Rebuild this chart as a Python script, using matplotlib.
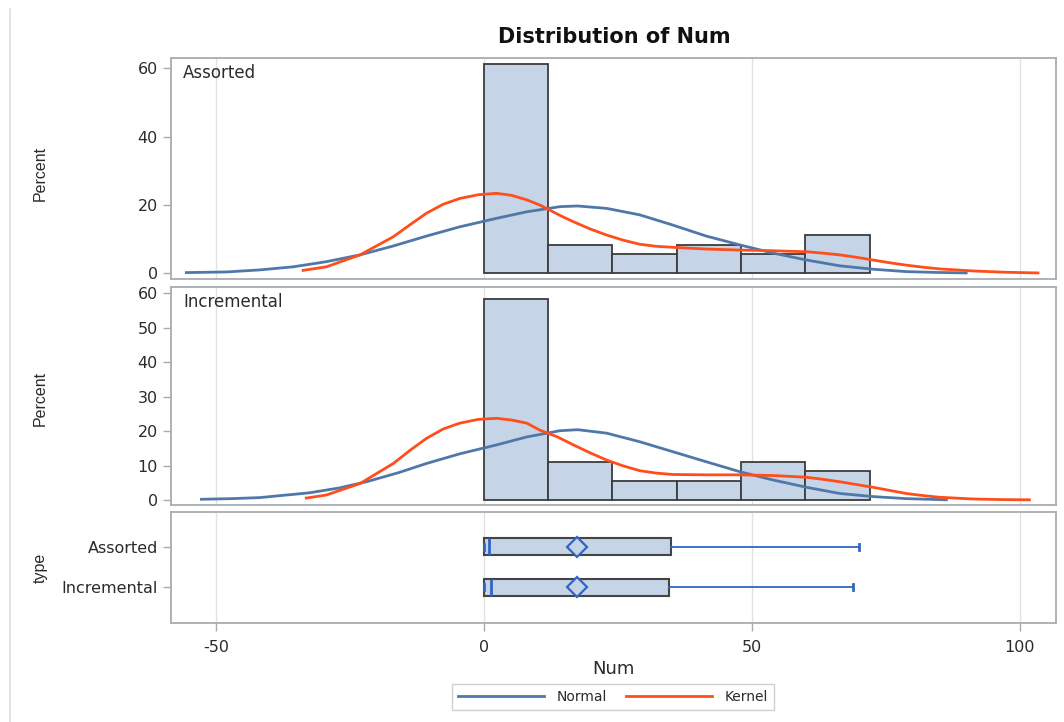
import matplotlib
matplotlib.use("Agg")
import matplotlib.pyplot as plt
from matplotlib.lines import Line2D

plt.rcParams['font.family'] = ['DejaVu Sans']
plt.rcParams['axes.unicode_minus'] = False

# ---------------- data ----------------
bin_edges = [0, 12, 24, 36, 48, 60, 72]
assorted_pct = [61.1, 8.3, 5.6, 8.3, 5.6, 11.1]
incremental_pct = [58.3, 11.1, 5.6, 5.6, 11.1, 8.3]

# Kernel density curves
assorted_kernel_x = [-34.0, -29.4, -23.1, -16.9, -13.8, -10.7, -7.6, -4.5, -1.0, 2.4, 5.2, 8.0,
                     10.4, 12.3, 14.5, 16.7, 19.8, 22.9, 26.0, 29.1, 32.2, 35.3, 41.5, 47.8,
                     54.0, 60.2, 63.3, 66.4, 69.5, 72.6, 75.7, 78.8, 81.9, 85.0, 91.2, 97.5, 103.7]
assorted_kernel_y = [0.8, 1.9, 5.4, 10.7, 14.2, 17.6, 20.2, 21.9, 23.0, 23.4, 22.8, 21.5,
                     20.0, 18.5, 16.7, 15.1, 13.0, 11.2, 9.7, 8.5, 7.9, 7.6, 7.1, 6.8,
                     6.6, 6.3, 5.9, 5.4, 4.7, 3.9, 3.1, 2.4, 1.8, 1.3, 0.7, 0.3, 0.1]
assorted_normal_x = [-55.8, -48.0, -41.8, -35.6, -29.4, -23.1, -16.9, -10.7, -4.5, 2.4, 8.0,
                     14.2, 17.5, 22.9, 29.1, 35.3, 41.5, 47.8, 54.0, 60.2, 66.4, 72.6, 78.8, 84.5, 90.3]
assorted_normal_y = [0.2, 0.4, 1.0, 1.9, 3.4, 5.4, 8.0, 10.9, 13.6, 16.1, 18.0,
                     19.5, 19.7, 19.0, 17.1, 14.1, 10.9, 8.3, 5.9, 3.9, 2.2, 1.2, 0.5, 0.25, 0.1]

incremental_kernel_x = [-33.4, -29.4, -23.1, -16.9, -13.8, -10.7, -7.6, -4.5, -1.0, 2.4, 5.2, 8.0,
                        10.4, 13.6, 16.7, 19.8, 22.9, 26.0, 29.1, 32.2, 35.3, 41.5, 47.8, 54.0,
                        60.2, 63.3, 66.4, 69.5, 72.6, 75.7, 78.8, 81.9, 85.0, 91.2, 96.5, 102.1]
incremental_kernel_y = [0.5, 1.45, 4.8, 10.6, 14.4, 17.9, 20.6, 22.3, 23.4, 23.7, 23.2, 22.3,
                        20.3, 18.4, 16.0, 13.7, 11.6, 9.9, 8.5, 7.8, 7.4, 7.3, 7.3, 7.1,
                        6.6, 6.0, 5.3, 4.5, 3.7, 2.8, 1.9, 1.3, 0.8, 0.3, 0.12, 0.05]
incremental_normal_x = [-53.0, -47.0, -41.8, -32.5, -27.0, -21.9, -16.0, -10.7, -4.5, 2.4, 8.0,
                        14.2, 17.5, 22.9, 29.1, 35.3, 41.5, 47.8, 54.0, 60.2, 66.4, 72.6, 78.8, 86.6]
incremental_normal_y = [0.2, 0.4, 0.7, 2.1, 3.5, 5.3, 7.9, 10.6, 13.4, 16.0, 18.3,
                        20.1, 20.4, 19.4, 16.9, 14.0, 11.1, 8.2, 5.8, 3.7, 1.9, 1.0, 0.4, 0.05]

# Box plot statistics
box_types = ['Assorted', 'Incremental']
box_min = [0.0, 0.0]
box_q1 = [0.0, 0.0]
box_med = [1.0, 1.4]
box_q3 = [34.9, 34.5]
box_max = [70.0, 68.9]
box_mean = [17.4, 17.4]

# ---------------- style ----------------
bar_fill = '#c5d4e7'
bar_edge = '#3c3c3c'
normal_c = '#4f78a8'
kernel_c = '#ff4e1c'
blue = '#2f66c4'
spine_c = '#a7adb3'
grid_c = '#e2e2e2'
text_c = '#2b2b2b'

W, H = 1064, 722
fig = plt.figure(figsize=(W / 100, H / 100), dpi=100)

def fx(px):
    return px / W

def fy(py):
    return 1 - py / H

left, right = 170.5, 1056
def add_ax(top, bottom):
    return fig.add_axes([fx(left), fy(bottom), fx(right) - fx(left), fy(top) - fy(bottom)])

ax1 = add_ax(58, 278.5)
ax2 = add_ax(287, 505)
ax3 = add_ax(511.7, 623.3)

xlim = (-58.5, 106.8)
for ax in (ax1, ax2, ax3):
    ax.set_xlim(*xlim)
    ax.set_xticks([-50, 0, 50, 100])
    ax.grid(axis='x', color=grid_c, lw=1.0)
    ax.set_axisbelow(True)
    for s in ax.spines.values():
        s.set_color(spine_c)
        s.set_linewidth(1.3)
    ax.tick_params(axis='both', colors=spine_c, labelcolor=text_c, labelsize=11.5,
                   length=6, width=1.0, pad=3)

for ax in (ax1, ax2):
    ax.tick_params(axis='x', length=0, labelbottom=False)

# histogram panels
panels = [(ax1, assorted_pct, assorted_kernel_x, assorted_kernel_y, assorted_normal_x,
           assorted_normal_y, 'Assorted', (-1.52, 63.0), [0, 20, 40, 60]),
          (ax2, incremental_pct, incremental_kernel_x, incremental_kernel_y, incremental_normal_x,
           incremental_normal_y, 'Incremental', (-1.45, 61.8), [0, 10, 20, 30, 40, 50, 60])]

for ax, pct, kx, ky, nx, ny, lab, ylim, yt in panels:
    ax.bar(bin_edges[:-1], pct, width=[b - a for a, b in zip(bin_edges[:-1], bin_edges[1:])],
           align='edge', color=bar_fill, edgecolor=bar_edge, linewidth=1.3, zorder=2)
    ax.plot(nx, ny, color=normal_c, lw=2.0, zorder=3, solid_capstyle='butt',
            solid_joinstyle='round')
    ax.plot(kx, ky, color=kernel_c, lw=2.0, zorder=4, solid_capstyle='butt',
            solid_joinstyle='round')
    ax.set_ylim(*ylim)
    ax.set_yticks(yt)
    ax.text(0.014, 0.932, lab, transform=ax.transAxes, ha='left', va='center',
            fontsize=12, color=text_c)

# box plot panel
stats = []
for i in range(len(box_types)):
    stats.append(dict(label=box_types[i], whislo=box_min[i], q1=box_q1[i], med=box_med[i],
                      q3=box_q3[i], whishi=box_max[i], mean=box_mean[i], fliers=[]))
ax3.bxp(stats, positions=[0, 1], widths=0.42, orientation='horizontal', showmeans=True,
        patch_artist=True, capwidths=0.15,
        boxprops=dict(facecolor=bar_fill, edgecolor='#444444', linewidth=1.5),
        medianprops=dict(color=blue, linewidth=2.0),
        whiskerprops=dict(color=blue, linewidth=1.3),
        capprops=dict(color=blue, linewidth=2.0),
        meanprops=dict(marker='D', markersize=10, markerfacecolor=bar_fill,
                       markeredgecolor=blue, markeredgewidth=1.6),
        manage_ticks=False, zorder=3)
ax3.set_ylim(1.89, -0.86)
ax3.set_yticks([0, 1])
ax3.set_yticklabels(box_types)
ax3.tick_params(axis='x', pad=6)

# texts
fig.text(fx(614), fy(37), 'Distribution of Num', ha='center', va='center',
         fontsize=15, fontweight='bold', color='#111111')
for yy, s in [(173, 'Percent'), (398, 'Percent'), (568, 'type')]:
    fig.text(fx(40), fy(yy), s, rotation=90, ha='center', va='center',
             fontsize=11.5, color=text_c, family=['Liberation Sans', 'DejaVu Sans'])
fig.text(fx(613), fy(669), 'Num', ha='center', va='center', fontsize=13, color=text_c)

handles = [Line2D([], [], color=normal_c, lw=2), Line2D([], [], color=kernel_c, lw=2)]
leg = fig.legend(handles, ['Normal', 'Kernel'], loc='center',
                 bbox_to_anchor=(fx(613), fy(697)), ncol=2, frameon=True, fancybox=False,
                 edgecolor='#c4c4c4', handlelength=6.2, fontsize=10, columnspacing=1.4,
                 handletextpad=0.9, borderpad=0.45)
leg.get_frame().set_linewidth(1.0)
for t in leg.get_texts():
    t.set_color(text_c)

# page border line on the left
fig.add_artist(Line2D([fx(9.5), fx(9.5)], [0, fy(9)], transform=fig.transFigure,
                      color='#dcdcdc', lw=1.2))

fig.savefig('out.png', dpi=100)
